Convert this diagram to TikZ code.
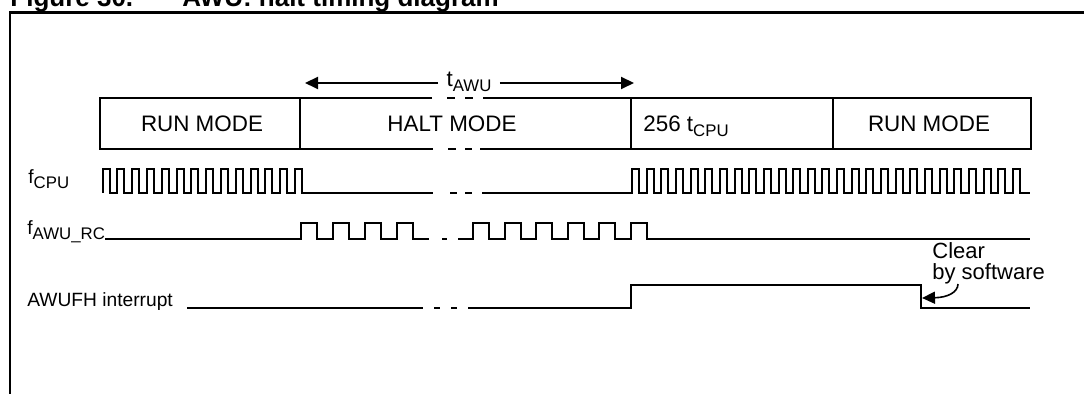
\documentclass[tikz,border=0pt]{standalone}
\usepackage{fontspec}
\setmainfont{Liberation Sans}
\usetikzlibrary{arrows.meta}
\newcommand\sbs[1]{\raisebox{-2.3pt}{\fontsize{8.4}{9}\selectfont #1}}
\begin{document}
\begin{tikzpicture}[x=0.5pt,y=-0.5pt,
  sig/.style={line width=1pt, line join=miter},
  boxln/.style={line width=1pt},
  frm/.style={line width=1.35pt},
  txt/.style={inner sep=0pt, anchor=base, font=\fontsize{11.2}{13}\selectfont},
  lbl/.style={inner sep=0pt, anchor=base west, font=\fontsize{9.6}{11}\selectfont},
  dimarr/.style={line width=1pt, -{Triangle[length=6.5pt,width=6pt]}},
  note/.style={inner sep=0pt, anchor=base west, font=\fontsize{11}{12}\selectfont},
  ttl/.style={inner sep=0pt, anchor=base west, font=\bfseries\fontsize{13}{15}\selectfont}]
\useasboundingbox (0,0) rectangle (1084,394);

% title (cut by the top edge)
\node[ttl] (ttlnum) at (10,6.5) {Figure 30.};
\node[ttl] (ttltxt) at (182,6.5) {AWU: halt timing diagram};

% frame
\draw[frm] (10,400) -- (10,12.5) -- (1090,12.5);

% mode boxes
\draw[boxln] (432,98) -- (100,98) -- (100,149) -- (433,149);
\draw[boxln] (483,98) -- (1031,98) -- (1031,149) -- (480,149);
\draw[boxln] (447,98) -- (455,98) (465,98) -- (473,98);
\draw[boxln] (448,149) -- (456,149) (465,149) -- (472,149);
\draw[boxln] (300,98) -- (300,149) (631,98) -- (631,149) (833,98) -- (833,149);

\node[txt] (run1) at (202,131.7) {RUN MODE};
\node[txt] (halt) at (452,131.7) {HALT MODE};
\node[txt, anchor=base west] (cpu256) at (643,131.7) {256 t\sbs{CPU}};
\node[txt] (run2) at (929,131.7) {RUN MODE};

% t_AWU dimension
\node[txt, inner xsep=4pt] (tawu) at (469,87) {t\sbs{AWU}};
\coordinate (aL) at (305,83);
\coordinate (aR) at (634,83);
\draw[dimarr] (tawu.west |- aL) -- (aL);
\draw[dimarr] (tawu.east |- aR) -- (aR);

% f_CPU
\node[lbl] (fcpu) at (28,183.5) {f\sbs{CPU}};
\draw[sig] (102.5,193) \foreach \i in {1,...,14}{ -- ++(0,-24) -- ++(7,0) -- ++(0,24) -- ++(7.8,0)} -- (433,193);
\draw[sig] (450,193) -- (457,193) (465,193) -- (472,193);
\draw[sig] (482,193) -- (632,193) \foreach \i in {1,...,27}{ -- ++(0,-24) -- ++(7,0) -- ++(0,24) -- ++(7.65,0)} -- (1030,193);

% f_AWU_RC
\node[lbl] (fawu) at (27,235) {f\sbs{AWU\_RC}};
\draw[sig] (105,239) -- (301,239) \foreach \i in {1,...,4}{ -- ++(0,-16) -- ++(16,0) -- ++(0,16) -- ++(16,0)};
\draw[sig] (442,239) -- (447,239);
\draw[sig] (458,239) -- (473,239) \foreach \i in {1,...,6}{ -- ++(0,-16) -- ++(16,0) -- ++(0,16) -- ++(15.5,0)} -- (1030,239);

% AWUFH interrupt
\node[lbl] (awufh) at (27,306.5) {AWUFH interrupt};
\draw[sig] (187,308) -- (423,308);
\draw[sig] (434,308) -- (440,308) (451,308) -- (457,308);
\draw[sig] (468,308) -- (631,308) -- (631,285) -- (921,285) -- (921,308) -- (1030,308);

% Clear by software
\node[note] (clr1) at (932,259) {Clear};
\node[note] (clr2) at (932,280) {by software};
\coordinate (clrS) at (958,284);
\coordinate (clrT) at (922,298);
\draw[line width=0.8pt, -{Triangle[length=6.5pt,width=6pt]}] (clrS) .. controls (958,292) and (948,297.5) .. (clrT);
\end{tikzpicture}
\end{document}
